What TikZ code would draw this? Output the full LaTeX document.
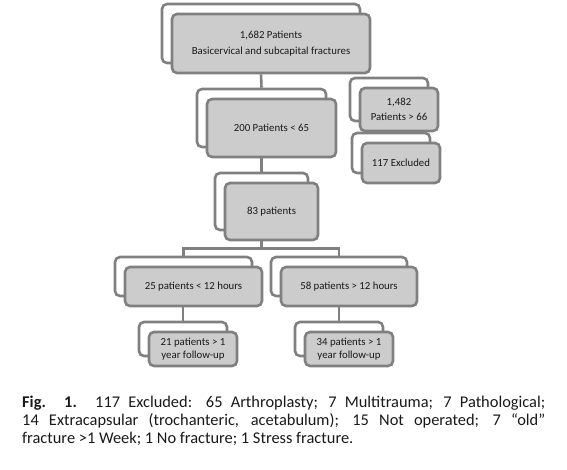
\documentclass[tikz,border=0pt]{standalone}
\usepackage{fontspec}
\setmainfont{Carlito}
\usetikzlibrary{backgrounds,calc}
\definecolor{boxline}{RGB}{128,128,128}
\definecolor{boxfill}{RGB}{204,204,204}
\definecolor{txt}{RGB}{25,25,25}
\tikzset{
  front/.style={draw=boxline, line width=2.6pt, fill=boxfill, rounded corners=5pt,
    inner sep=0pt, align=center, text=txt, font=\fontsize{10.8}{12.5}\selectfont},
  back/.style={draw=boxline, line width=2.6pt, fill=white, rounded corners=5pt, inner sep=0pt},
  conn/.style={draw=boxline, line width=2.6pt}
}
\newcommand{\mybox}[6]{% name, x, y, w, h, text
  \node[front, minimum width=#4pt, minimum height=#5pt] (#1) at (#2,#3) {#6};
  \begin{scope}[on background layer]
    \node[back, minimum width=#4pt, minimum height=#5pt] (#1B) at ($(#1)+(-10,-10)$) {};
  \end{scope}
}
\begin{document}
\begin{tikzpicture}[x=1pt,y=-1pt]
\useasboundingbox (0,0) rectangle (567,469);
\mybox{top}{271}{43.5}{198}{59}{1,682 Patients\\[4pt]Basicervical and subcapital fractures}
\mybox{mid}{271.5}{128}{129}{58}{200 Patients < 65}
\mybox{pat}{271.5}{211.5}{93}{57}{83 patients}
\mybox{old}{399}{109.5}{78}{43}{1,482\\[2pt]Patients > 66}
\mybox{exc}{401}{163}{78}{40}{117 Excluded}
\mybox{lt}{193.5}{286.5}{137}{39}{25 patients < 12 hours}
\mybox{gt}{349}{286.5}{136}{39}{58 patients > 12 hours}
\mybox{lf}{193}{349}{88}{34}{21 patients > 1\\year follow-up}
\mybox{gf}{349}{349}{88}{34}{34 patients > 1\\year follow-up}
\begin{scope}[on background layer]
\draw[conn] (topB.south |- top.south) -- (midB.north);
\draw[conn] (midB.south |- mid.south) -- (patB.north);
\coordinate (bus) at ($(patB.south |- pat.south)+(0,7)$);
\draw[conn] (patB.south |- pat.south) -- (bus);
\draw[conn] (ltB.north) -- (ltB.north |- bus) -- (gtB.north |- bus) -- (gtB.north);
\draw[conn] (lfB.north |- lt.south) -- (lfB.north);
\draw[conn] (gfB.north |- gt.south) -- (gfB.north);
\end{scope}
\node[anchor=north west, inner sep=0pt, text width=523pt, align=justify, text=txt,
  font=\fontsize{16.4}{18}\selectfont] (cap) at (22,395.5)
  {\textbf{Fig. 1.} 117 Excluded: 65 Arthroplasty; 7 Multitrauma; 7 Pathological;\linebreak
  14 Extracapsular (trochanteric, acetabulum); 15 Not operated; 7 “old”\linebreak
  fracture >1 Week; 1 No fracture; 1 Stress fracture.};
\end{tikzpicture}
\end{document}
